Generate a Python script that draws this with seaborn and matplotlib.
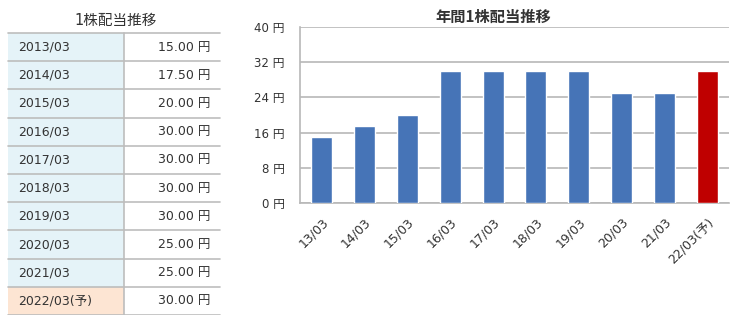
import matplotlib
matplotlib.use("Agg")
import matplotlib.pyplot as plt
import seaborn as sns
import pandas as pd
from matplotlib.patches import Rectangle

# ---- data ----
table_periods = ["2013/03", "2014/03", "2015/03", "2016/03", "2017/03",
                 "2018/03", "2019/03", "2020/03", "2021/03", "2022/03(予)"]
chart_labels = ["13/03", "14/03", "15/03", "16/03", "17/03",
                "18/03", "19/03", "20/03", "21/03", "22/03(予)"]
dividends = [15.0, 17.5, 20.0, 30.0, 30.0, 30.0, 30.0, 25.0, 25.0, 30.0]
is_forecast = [False] * 9 + [True]
y_ticks = [0, 8, 16, 24, 32, 40]

table_title = "1株配当推移"
chart_title = "年間1株配当推移"

sns.set_theme(style="white")
plt.rcParams['font.family'] = ['DejaVu Sans', 'Noto Sans CJK JP']
CJK = ['Noto Sans CJK JP', 'DejaVu Sans']

W, H = 736, 315
fig = plt.figure(figsize=(W / 100, H / 100), dpi=100)

# ---- table (left) ----
tax = fig.add_axes([0, 0, 1, 1])
tax.set_xlim(0, W)
tax.set_ylim(H, 0)
tax.axis("off")

x0, xm, x1 = 8, 124, 220
row_top, row_h = 33, 28.2
grid_c = "#bdbdbd"
txt_c = "#333333"
tax.text((x0 + x1) / 2 + 2, 20, table_title, ha="center", va="center",
         fontsize=10.5, color=txt_c, family=['DejaVu Sans', 'Noto Sans CJK JP'])
n = len(table_periods)
for i, (p, v, f) in enumerate(zip(table_periods, dividends, is_forecast)):
    yt = row_top + i * row_h
    tax.add_patch(Rectangle((x0, yt), xm - x0, row_h,
                            facecolor="#fde5d3" if f else "#e5f3f8",
                            edgecolor="none"))
    tax.text(x0 + 10, yt + row_h / 2, p, ha="left", va="center",
             fontsize=9, color=txt_c)
    tax.text(x1 - 10, yt + row_h / 2, f"{v:.2f} 円", ha="right", va="center",
             fontsize=9, color=txt_c)
for i in range(n + 1):
    yy = row_top + i * row_h
    tax.plot([x0, x1], [yy, yy], color=grid_c, lw=1.2)
tax.plot([xm, xm], [row_top, row_top + n * row_h], color=grid_c, lw=1.2)

# ---- bar chart (right) ----
ax = fig.add_axes([300 / W, 1 - 203 / H, (729 - 300) / W, (203 - 27) / H])
df = pd.DataFrame({"period": chart_labels, "dividend": dividends,
                   "kind": ["予想" if f else "実績" for f in is_forecast]})
sns.barplot(data=df, x="period", y="dividend", hue="kind",
            palette={"実績": "#4674b7", "予想": "#bf0000"}, saturation=1,
            dodge=False, width=0.49, legend=False, ax=ax, zorder=3)
ax.set_ylim(0, 40)
ax.set_xlim(-0.5, len(chart_labels) - 0.5)
ax.set_yticks(y_ticks)
ax.set_yticklabels([f"{t} 円" for t in y_ticks], fontsize=8.5, color=txt_c)
ax.yaxis.grid(True, color="#b8b8b8", lw=1.2, zorder=0)
ax.set_axisbelow(True)
ax.tick_params(axis="y", length=0, pad=11)
ax.set_xticks(range(len(chart_labels)))
ax.set_xticklabels(chart_labels, rotation=45, ha="right",
                   rotation_mode="anchor", fontsize=9, color=txt_c)
ax.tick_params(axis="x", length=0, pad=9)
# minor ticks between categories
ax.set_xticks([i + 0.5 for i in range(len(chart_labels))], minor=True)
ax.tick_params(axis="x", which="minor", direction="in", length=7,
               color="#b8b8b8", width=1.2)
ax.set_xlabel("")
ax.set_ylabel("")
for s in ["top", "right"]:
    ax.spines[s].set_visible(False)
for s in ["left", "bottom"]:
    ax.spines[s].set_color("#b8b8b8")
    ax.spines[s].set_linewidth(1.2)
ax.set_title(chart_title, fontsize=11, fontweight="bold", color=txt_c,
             pad=4, family=CJK, x=0.45)

fig.savefig("out.png", dpi=100)
